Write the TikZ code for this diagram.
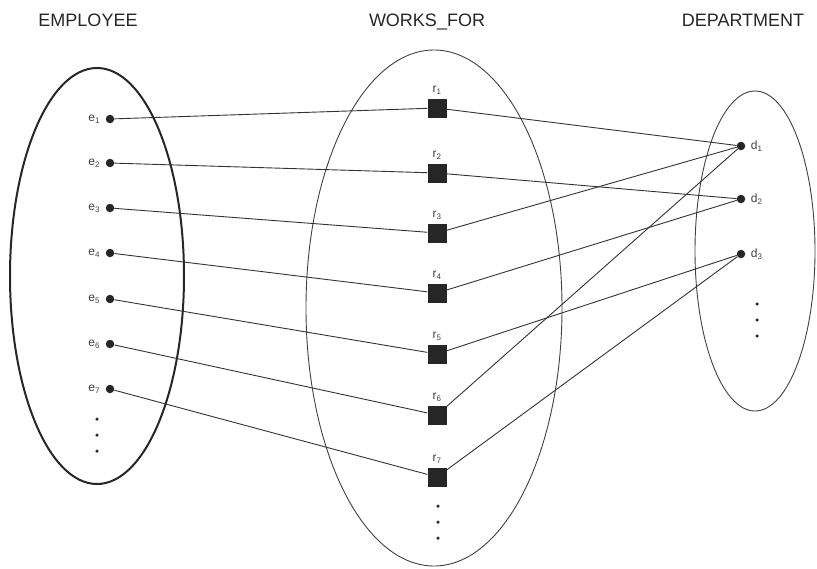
\documentclass[tikz,border=0pt]{standalone}
\usepackage{fontspec}
\setmainfont{Liberation Sans}
\usetikzlibrary{positioning}

\begin{document}
\begin{tikzpicture}[x=1pt, y=-1pt,
	ent/.style={circle, fill=black!85, inner sep=0pt, minimum size=8.5pt},
	rel/.style={rectangle, fill=black!85, inner sep=0pt, minimum size=19pt},
	more/.style={circle, fill=black!85, inner sep=0pt, minimum size=3.5pt},
	head/.style={anchor=base, text=black!85, font=\fontsize{18}{18}\selectfont},
	lab/.style={text=black!75, font=\fontsize{12}{12}\selectfont},
	link/.style={draw=black!80, line width=0.9pt}]
	\useasboundingbox (0,0) rectangle (817,568);

	% titles
	\node[head] (emp) at (88,26) {EMPLOYEE};
	\node[head] (wf) at (427,26) {WORKS\_FOR};
	\node[head] (dep) at (743,26) {DEPARTMENT};

	% sets
	\draw[line width=2pt, black!85] (97,276) ellipse [x radius=87pt, y radius=208pt];
	\draw[line width=0.9pt, black!75] (434,308) ellipse [x radius=128pt, y radius=258pt];
	\draw[line width=0.9pt, black!75] (755,251) ellipse [x radius=60pt, y radius=160pt];

	% employees
	\node[ent, label={[lab, label distance=2pt]left:e\textsubscript{1}}] (e1) at (110,119) {};
	\node[ent, label={[lab, label distance=2pt]left:e\textsubscript{2}}] (e2) at (110,163) {};
	\node[ent, label={[lab, label distance=2pt]left:e\textsubscript{3}}] (e3) at (110,208) {};
	\node[ent, label={[lab, label distance=2pt]left:e\textsubscript{4}}] (e4) at (110,253) {};
	\node[ent, label={[lab, label distance=2pt]left:e\textsubscript{5}}] (e5) at (110,299) {};
	\node[ent, label={[lab, label distance=2pt]left:e\textsubscript{6}}] (e6) at (110,344) {};
	\node[ent, label={[lab, label distance=2pt]left:e\textsubscript{7}}] (e7) at (110,389) {};
	\node[more] (em1) at (97,419) {};
	\node[more] (em2) at (97,435) {};
	\node[more] (em3) at (97,451) {};

	% relationship instances
	\node[rel, label={[lab]above:r\textsubscript{1}}] (r1) at (437,108) {};
	\node[rel, label={[lab]above:r\textsubscript{2}}] (r2) at (437,173) {};
	\node[rel, label={[lab]above:r\textsubscript{3}}] (r3) at (437,233) {};
	\node[rel, label={[lab]above:r\textsubscript{4}}] (r4) at (437,293) {};
	\node[rel, label={[lab]above:r\textsubscript{5}}] (r5) at (437,354) {};
	\node[rel, label={[lab]above:r\textsubscript{6}}] (r6) at (437,415) {};
	\node[rel, label={[lab]above:r\textsubscript{7}}] (r7) at (437,477) {};
	\node[more] (rm1) at (438,506) {};
	\node[more] (rm2) at (438,522) {};
	\node[more] (rm3) at (438,538) {};

	% departments
	\node[ent, label={[lab, label distance=2pt]right:d\textsubscript{1}}] (d1) at (741,146) {};
	\node[ent, label={[lab, label distance=2pt]right:d\textsubscript{2}}] (d2) at (741,199) {};
	\node[ent, label={[lab, label distance=2pt]right:d\textsubscript{3}}] (d3) at (741,254) {};
	\node[more] (dm1) at (757,304) {};
	\node[more] (dm2) at (757,320) {};
	\node[more] (dm3) at (757,336) {};

	% links
	\draw[link] (e1) -- (r1);
	\draw[link] (e2) -- (r2);
	\draw[link] (e3) -- (r3);
	\draw[link] (e4) -- (r4);
	\draw[link] (e5) -- (r5);
	\draw[link] (e6) -- (r6);
	\draw[link] (e7) -- (r7);

	\draw[link] (r1) -- (d1);
	\draw[link] (r2) -- (d2);
	\draw[link] (r3) -- (d1);
	\draw[link] (r4) -- (d2);
	\draw[link] (r5) -- (d3);
	\draw[link] (r6) -- (d1);
	\draw[link] (r7) -- (d3);
\end{tikzpicture}
\end{document}
